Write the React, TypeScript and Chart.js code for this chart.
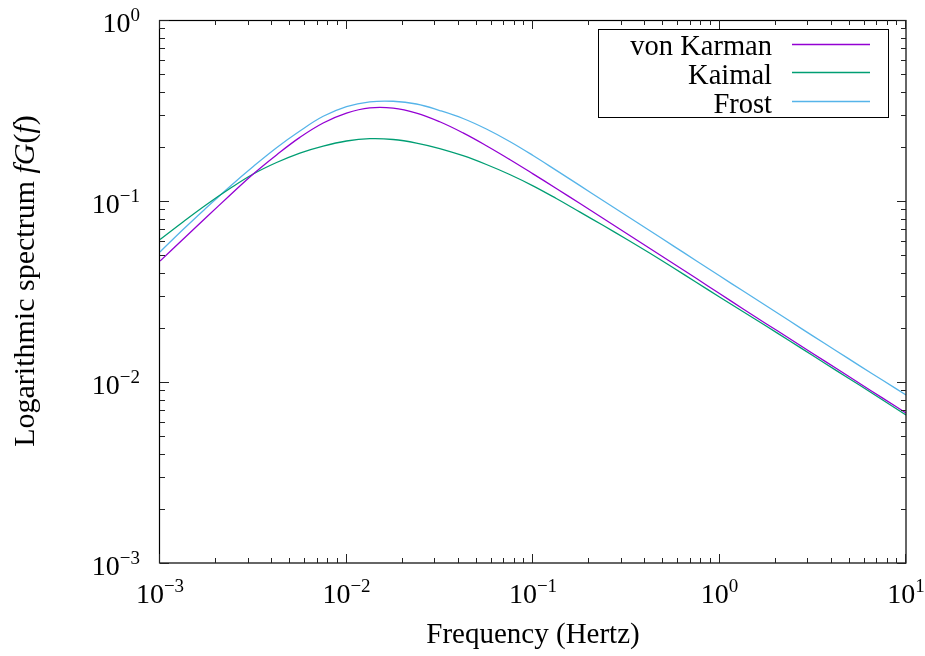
import React, { useEffect, useRef } from "react";
import { Chart, registerables } from "chart.js";

Chart.register(...registerables);

// Frequency samples (Hz), eight per decade
const frequency = [
  0.001, 0.0013335, 0.0017783, 0.0023714, 0.0031623, 0.004217, 0.0056234, 0.0074989,
  0.01, 0.013335, 0.017783, 0.023714, 0.031623, 0.04217, 0.056234, 0.074989,
  0.1, 0.13335, 0.17783, 0.23714, 0.31623, 0.4217, 0.56234, 0.74989,
  1, 1.3335, 1.7783, 2.3714, 3.1623, 4.217, 5.6234, 7.4989, 10,
];

// Logarithmic spectrum fG(f)
const vonKarman = [
  0.0466, 0.0617, 0.0816, 0.1075, 0.141, 0.1797, 0.2246, 0.2697,
  0.306, 0.327, 0.326, 0.306, 0.274, 0.2377, 0.202, 0.1696,
  0.1413, 0.1173, 0.0971, 0.0803, 0.0664, 0.0548, 0.0453, 0.0374,
  0.0308, 0.0254, 0.021, 0.0174, 0.01437, 0.0119, 0.00984, 0.00815, 0.00675,
];
const kaimal = [
  0.0613, 0.0769, 0.0957, 0.1172, 0.141, 0.1632, 0.1841, 0.2012,
  0.2145, 0.2209, 0.2187, 0.2091, 0.195, 0.1779, 0.1591, 0.1401,
  0.1213, 0.1032, 0.0871, 0.0734, 0.0617, 0.0516, 0.0429, 0.0356,
  0.0295, 0.0245, 0.0204, 0.0169, 0.014, 0.0116, 0.00962, 0.00796, 0.00657,
];
const frost = [
  0.0523, 0.0698, 0.092, 0.1204, 0.1551, 0.197, 0.2436, 0.2938,
  0.3326, 0.3532, 0.3558, 0.3435, 0.3162, 0.2856, 0.2498, 0.2132,
  0.1784, 0.1477, 0.122, 0.1006, 0.0832, 0.0687, 0.0567, 0.0468,
  0.0386, 0.0319, 0.02636, 0.02178, 0.01799, 0.01489, 0.01232, 0.01022, 0.00848,
];

const seriesLabels = ["von Karman", "Kaimal", "Frost"];
const seriesColors = ["#9400d3", "#009e73", "#56b4e9"];

const xTickExponents = [-3, -2, -1, 0, 1];
const yTickExponents = [-3, -2, -1, 0];
const minorMultipliers = [2, 3, 4, 5, 6, 7, 8, 9];

const xTitle = "Frequency (Hertz)";
const yTitleParts: [string, boolean][] = [
  ["Logarithmic spectrum ", false],
  ["fG", true],
  ["(", false],
  ["f", true],
  [")", false],
];

const FONT = "'Liberation Serif', 'Times New Roman', serif";

function drawPower(ctx: CanvasRenderingContext2D, exp: number, x: number, baseY: number, align: string) {
  const base = "10";
  const sup = exp < 0 ? "\u2212" + Math.abs(exp) : String(exp);
  ctx.font = `28px ${FONT}`;
  const wb = ctx.measureText(base).width;
  ctx.font = `19px ${FONT}`;
  const ws = ctx.measureText(sup).width;
  const total = wb + ws;
  const left = align === "center" ? x - total / 2 : x - total;
  ctx.textAlign = "left";
  ctx.textBaseline = "alphabetic";
  ctx.fillStyle = "#000";
  ctx.font = `28px ${FONT}`;
  ctx.fillText(base, left, baseY);
  ctx.font = `19px ${FONT}`;
  ctx.fillText(sup, left + wb, baseY - 11.6);
}

const decorPlugin = {
  id: "gnuplotDecor",
  afterDraw(chart: any) {
    const ctx: CanvasRenderingContext2D = chart.ctx;
    const { left, right, top, bottom } = chart.chartArea;
    const xs = chart.scales.x;
    const ys = chart.scales.y;
    ctx.save();

    // frame
    ctx.strokeStyle = "#000";
    ctx.lineWidth = 1.2;
    ctx.strokeRect(Math.round(left) - 0.5, Math.round(top) + 0.5, Math.round(right - left) + 0.5, Math.round(bottom - top) - 0.5);

    // ticks
    ctx.lineWidth = 1;
    ctx.strokeStyle = "#222";
    const drawXTick = (v: number, len: number) => {
      if (v < xs.min * 0.999 || v > xs.max * 1.001) return;
      const px = Math.round(xs.getPixelForValue(v)) - 0.5;
      ctx.beginPath();
      ctx.moveTo(px, bottom);
      ctx.lineTo(px, bottom - len);
      ctx.moveTo(px, top);
      ctx.lineTo(px, top + len);
      ctx.stroke();
    };
    const drawYTick = (v: number, len: number) => {
      if (v < ys.min * 0.999 || v > ys.max * 1.001) return;
      const py = Math.round(ys.getPixelForValue(v)) + 0.5;
      ctx.beginPath();
      ctx.moveTo(left, py);
      ctx.lineTo(left + len, py);
      ctx.moveTo(right, py);
      ctx.lineTo(right - len, py);
      ctx.stroke();
    };
    xTickExponents.forEach((e) => {
      drawXTick(Math.pow(10, e), 9);
      minorMultipliers.forEach((m) => drawXTick(m * Math.pow(10, e), 5));
    });
    yTickExponents.forEach((e) => {
      drawYTick(Math.pow(10, e), 9);
      minorMultipliers.forEach((m) => drawYTick(m * Math.pow(10, e), 5));
    });

    // tick labels
    xTickExponents.forEach((e) => {
      const px = xs.getPixelForValue(Math.pow(10, e));
      drawPower(ctx, e, px, bottom + 40.3, "center");
    });
    yTickExponents.forEach((e) => {
      const py = ys.getPixelForValue(Math.pow(10, e));
      drawPower(ctx, e, left - 20, py + 12.3, "right");
    });

    // axis titles
    ctx.fillStyle = "#000";
    ctx.font = `29px ${FONT}`;
    ctx.textAlign = "center";
    ctx.textBaseline = "alphabetic";
    ctx.fillText(xTitle, (left + right) / 2, 643);

    ctx.save();
    ctx.translate(34, 281);
    ctx.rotate(-Math.PI / 2);
    const yFont = 30;
    let totalW = 0;
    yTitleParts.forEach(([t, it]) => {
      ctx.font = `${it ? "italic " : ""}${yFont}px ${FONT}`;
      totalW += ctx.measureText(t).width;
    });
    let cx = -totalW / 2;
    ctx.textAlign = "left";
    yTitleParts.forEach(([t, it]) => {
      ctx.font = `${it ? "italic " : ""}${yFont}px ${FONT}`;
      ctx.fillText(t, cx, 0);
      cx += ctx.measureText(t).width;
    });
    ctx.restore();

    // legend
    const boxL = 598, boxT = 29, boxR = 888, boxB = 117;
    ctx.fillStyle = "#fff";
    ctx.fillRect(boxL, boxT, boxR - boxL, boxB - boxT);
    ctx.strokeStyle = "#000";
    ctx.lineWidth = 1;
    ctx.strokeRect(boxL + 0.5, boxT + 0.5, boxR - boxL, boxB - boxT);
    chart.data.datasets.forEach((ds: any, i: number) => {
      const baseY = 55 + i * 28.9;
      ctx.fillStyle = "#000";
      ctx.font = `28.5px ${FONT}`;
      ctx.textAlign = "right";
      ctx.fillText(ds.label, 772, baseY);
      ctx.strokeStyle = ds.borderColor;
      ctx.lineWidth = 1.3;
      ctx.beginPath();
      const ly = Math.round(baseY - 11.5) + 0.5;
      ctx.moveTo(792, ly);
      ctx.lineTo(870, ly);
      ctx.stroke();
    });

    ctx.restore();
  },
};

export default function App() {
  const canvasRef = useRef<HTMLCanvasElement | null>(null);

  useEffect(() => {
    const canvas = canvasRef.current;
    if (!canvas) return;
    const series = [vonKarman, kaimal, frost];
    const chart = new Chart(canvas, {
      type: "line",
      data: {
        datasets: series.map((vals, i) => ({
          label: seriesLabels[i],
          data: frequency.map((f, j) => ({ x: f, y: vals[j] })),
          borderColor: seriesColors[i],
          backgroundColor: seriesColors[i],
          borderWidth: 1.3,
          pointRadius: 0,
          tension: 0.4,
          fill: false,
        })),
      },
      options: {
        responsive: false,
        animation: false,
        devicePixelRatio: 1,
        layout: { padding: { left: 0, right: 19, top: 20, bottom: 0 } },
        plugins: {
          legend: { display: false },
          tooltip: { enabled: false },
        },
        scales: {
          x: {
            type: "logarithmic",
            min: 0.001,
            max: 10,
            ticks: { display: false },
            grid: { display: false },
            border: { display: false },
            afterFit: (s: any) => {
              s.height = 93;
            },
          },
          y: {
            type: "logarithmic",
            min: 0.001,
            max: 1,
            ticks: { display: false },
            grid: { display: false },
            border: { display: false },
            afterFit: (s: any) => {
              s.width = 160;
            },
          },
        },
      },
      plugins: [decorPlugin],
    } as any);
    return () => chart.destroy();
  }, []);

  return (
    <div style={{ position: "fixed", left: 0, top: 0, width: 925, height: 656, background: "#fff" }}>
      <canvas ref={canvasRef} width={925} height={656} style={{ display: "block" }} />
    </div>
  );
}
